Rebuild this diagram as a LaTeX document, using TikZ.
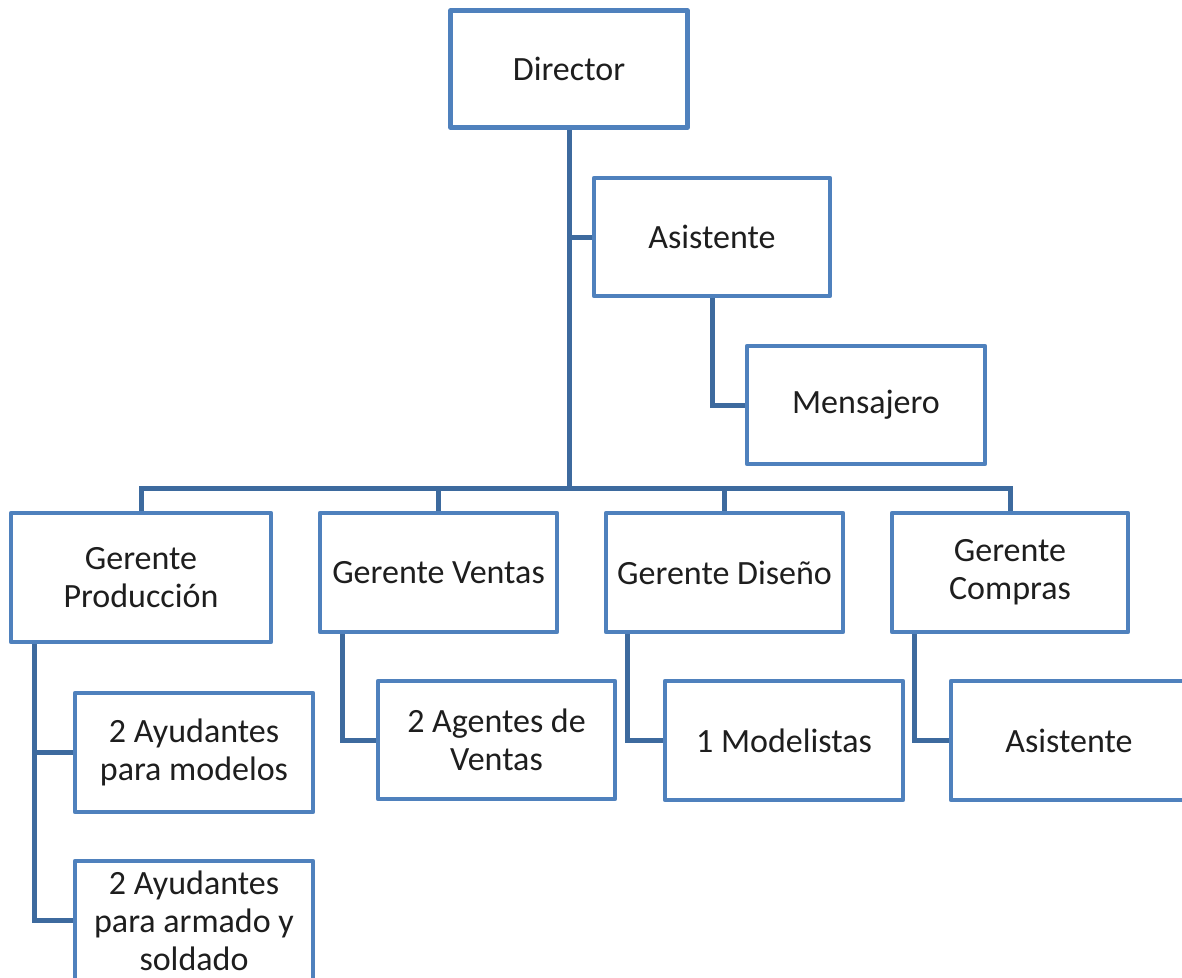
\documentclass[tikz,border=0pt]{standalone}
\usepackage{fontspec}
\setmainfont{Carlito}
\definecolor{boxblue}{HTML}{4F81BD}
\definecolor{linkblue}{HTML}{3D6A9E}
\definecolor{ink}{HTML}{1E1E1E}
\begin{document}
\begin{tikzpicture}[x=1pt,y=-1pt,
  orgbox/.style={draw=boxblue, line width=4.5pt, fill=white, rectangle,
    line join=round, align=center, text=ink, inner sep=0pt,
    font=\fontsize{34}{38}\selectfont},
  link/.style={draw=linkblue, line width=5pt}]
\useasboundingbox (0,0) rectangle (1182,977);
\clip (0,0) rectangle (1182,977);

% boxes
\node[orgbox, minimum width=237pt, minimum height=117pt] (dir)   at (569,69)    {Director};
\node[orgbox, minimum width=236pt, minimum height=118pt] (asis)  at (712,237)   {Asistente};
\node[orgbox, minimum width=238pt, minimum height=118pt] (mens)  at (866,405)   {Mensajero};
\node[orgbox, minimum width=260pt, minimum height=129pt] (gprod) at (141,577.5) {Gerente\\Producción};
\node[orgbox, minimum width=237pt, minimum height=119pt] (gven)  at (438.5,572.5) {Gerente Ventas};
\node[orgbox, minimum width=237pt, minimum height=119pt] (gdis)  at (724.5,572.5) {Gerente Diseño};
\node[orgbox, minimum width=236pt, minimum height=119pt] (gcom)  at (1010,572.5)  {Gerente\\Compras};
\node[orgbox, minimum width=238pt, minimum height=119pt] (ay1)   at (194,752.5) {2 Ayudantes\\para modelos};
\node[orgbox, minimum width=238pt, minimum height=119pt] (ay2)   at (194,920.5) {2 Ayudantes\\para armado y\\soldado};
\node[orgbox, minimum width=237pt, minimum height=118pt] (agv)   at (496.5,740) {2 Agentes de\\Ventas};
\node[orgbox, minimum width=238pt, minimum height=119pt] (mod)   at (784,740.5) {1 Modelistas};
\node[orgbox, minimum width=236pt, minimum height=119pt] (asc)   at (1069,740.5) {Asistente};

% junction of the main trunk with the managers' bar
\coordinate (bar) at (569,488);

% connectors
\draw[link] (dir.south) -- (bar);
\draw[link] (asis.west) -- (asis.west -| dir.south);
\draw[link] (asis.south) |- (mens.west);
\draw[link] (gprod.north) |- (gcom.north |- bar) -- (gcom.north);
\draw[link] (gven.north) -- (gven.north |- bar);
\draw[link] (gdis.north) -- (gdis.north |- bar);
\draw[link] ([xshift=26pt]gprod.south west) |- (ay1.west);
\draw[link] ([xshift=26pt]gprod.south west) |- (ay2.west);
\draw[link] ([xshift=25pt]gven.south west) |- (agv.west);
\draw[link] ([xshift=24pt]gdis.south west) |- (mod.west);
\draw[link] ([xshift=25pt]gcom.south west) |- (asc.west);
\end{tikzpicture}
\end{document}
